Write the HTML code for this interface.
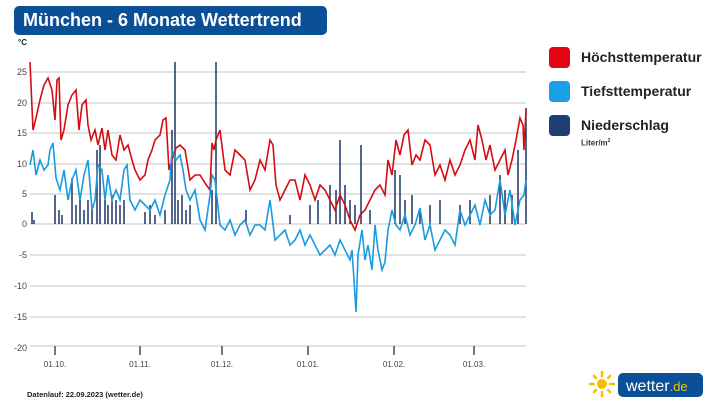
<!DOCTYPE html>
<html><head><meta charset="utf-8"><style>
body{margin:0;width:717px;height:403px;background:#fff;font-family:"Liberation Sans",sans-serif;overflow:hidden;position:relative}
.t{position:absolute;left:14px;top:6px;width:313px;height:29px;background:#0b4f97;border-radius:5px;color:#fff;font-weight:bold;font-size:18px;line-height:29px;padding-left:9px;box-sizing:border-box}
.lg{position:absolute;left:549px;width:21px;height:21px;border-radius:4px}
.lt{position:absolute;left:581px;font-size:14px;font-weight:bold;color:#222}
</style></head><body>
<div class="t">München - 6 Monate Wettertrend</div>
<div class="lg" style="top:47px;background:#e30613"></div><div class="lt" style="top:49px">Höchsttemperatur</div>
<div class="lg" style="top:81px;background:#1aa0e6"></div><div class="lt" style="top:83px">Tiefsttemperatur</div>
<div class="lg" style="top:115px;background:#1f3f73"></div><div class="lt" style="top:117px">Niederschlag</div>
<div style="position:absolute;left:581px;top:138px;font-size:8px;font-weight:bold;color:#333">Liter/m<sup style="font-size:5px">2</sup></div>
<svg width="717" height="403" style="position:absolute;left:0;top:0" font-family="Liberation Sans" font-size="9" fill="#444">
<text x="18" y="45" font-size="8" font-weight="bold" fill="#222">°C</text>
<g stroke="#c4c4c4" stroke-width="1">
<line x1="30" x2="526" y1="72" y2="72"/><line x1="30" x2="526" y1="103" y2="103"/><line x1="30" x2="526" y1="133" y2="133"/><line x1="30" x2="526" y1="164" y2="164"/><line x1="30" x2="526" y1="194" y2="194"/><line x1="30" x2="526" y1="224" y2="224"/><line x1="30" x2="526" y1="255" y2="255"/><line x1="30" x2="526" y1="286" y2="286"/><line x1="30" x2="526" y1="317" y2="317"/><line x1="30" x2="526" y1="346" y2="346"/></g>
<g text-anchor="end"><text x="27" y="75">25</text><text x="27" y="106">20</text><text x="27" y="136">15</text><text x="27" y="167">10</text><text x="27" y="197">5</text><text x="27" y="227">0</text><text x="27" y="258">-5</text><text x="27" y="289">-10</text><text x="27" y="320">-15</text><text x="27" y="351">-20</text></g>
<g stroke="#222" stroke-width="1.2"><line x1="55" x2="55" y1="346" y2="355"/><line x1="140" x2="140" y1="346" y2="355"/><line x1="222" x2="222" y1="346" y2="355"/><line x1="308" x2="308" y1="346" y2="355"/><line x1="394" x2="394" y1="346" y2="355"/><line x1="474" x2="474" y1="346" y2="355"/></g>
<g text-anchor="middle" font-size="8"><text x="55" y="367">01.10.</text><text x="140" y="367">01.11.</text><text x="222" y="367">01.12.</text><text x="308" y="367">01.01.</text><text x="394" y="367">01.02.</text><text x="474" y="367">01.03.</text></g>
<g stroke="#1f3566" stroke-width="1.5">
<path d="M32 224V212M34 224V220M55 224V195M59 224V210M62 224V215M72 224V178M76 224V205M80 224V200M84 224V210M88 224V200M92 224V205M97 224V150M100 224V145M105 224V200M108 224V205M112 224V195M116 224V200M120 224V205M124 224V200M145 224V212M150 224V205M155 224V215M165 224V210M172 224V130M175 224V62M178 224V200M182 224V195M186 224V210M190 224V205M216 224V62M212 224V190M246 224V210M290 224V215M310 224V205M318 224V200M330 224V185M336 224V190M340 224V140M345 224V185M350 224V200M355 224V205M361 224V145M370 224V210M395 224V170M400 224V175M405 224V200M412 224V195M420 224V210M430 224V205M440 224V200M460 224V205M470 224V200M490 224V195M500 224V175M505 224V190M512 224V195M518 224V150M526 224V108"/></g>
<polyline fill="none" stroke="#d40d12" stroke-width="1.6" points="30,62 33,130 36,118 40,100 44,85 48,78 52,90 55,120 57,80 59,78 61,140 64,130 68,105 72,95 76,90 79,130 82,105 86,100 88,125 91,140 95,130 98,145 102,128 105,150 108,130 112,155 116,160 120,135 124,150 128,145 132,160 135,170 140,180 145,175 148,160 152,150 155,140 160,135 163,120 166,118 169,170 172,160 176,148 180,145 185,150 190,180 195,175 200,175 205,183 210,190 212,143 214,150 216,140 220,130 225,170 230,175 235,150 240,155 245,160 250,190 255,180 260,160 265,170 270,140 273,145 276,185 280,200 285,190 290,180 295,180 300,200 305,175 310,185 315,200 320,185 325,190 330,200 335,210 340,195 345,205 350,220 355,230 360,215 365,210 370,200 375,190 380,185 385,195 388,160 392,175 396,140 400,155 404,135 408,130 412,165 416,155 420,160 425,140 430,145 435,175 440,165 445,180 450,160 455,175 460,165 465,150 470,140 475,160 478,125 482,140 486,160 490,145 495,170 500,160 505,150 508,175 512,160 516,140 520,118 523,125 524,150 526,110"/>
<polyline fill="none" stroke="#1a9be0" stroke-width="1.6" points="30,165 33,150 36,175 40,160 44,170 48,165 50,150 53,143 56,178 60,190 64,170 68,200 72,180 76,170 80,200 84,175 88,160 92,210 95,200 98,165 102,170 105,200 108,175 112,200 116,190 120,200 124,170 127,165 130,200 135,210 140,200 145,205 150,210 155,200 160,215 165,195 170,180 172,150 176,160 180,155 183,170 186,190 190,200 195,190 200,220 205,230 210,195 212,175 215,180 220,225 225,230 230,220 235,235 240,225 245,220 250,235 255,225 260,225 265,230 270,200 275,240 280,235 285,230 290,245 295,240 300,230 305,245 310,235 315,245 320,255 325,250 330,245 335,255 340,240 345,250 350,260 352,250 354,280 356,312 358,255 362,230 365,260 368,245 372,270 375,225 378,250 382,270 385,262 388,230 392,210 396,225 400,230 405,215 410,235 415,225 420,208 425,240 430,225 435,250 440,240 445,230 450,235 455,245 460,210 465,225 470,215 475,205 480,225 485,200 490,215 495,210 500,180 505,215 510,190 515,225 520,200 524,195 526,180"/>
<text x="27" y="397" font-size="7.5" font-weight="bold" fill="#222">Datenlauf: 22.09.2023 (wetter.de)</text>
<g stroke="#f2c200" stroke-width="2.5" stroke-linecap="round"><line x1="602" y1="372" x2="602" y2="376"/><line x1="602" y1="392" x2="602" y2="396"/><line x1="590" y1="384" x2="594" y2="384"/><line x1="610" y1="384" x2="614" y2="384"/><line x1="594" y1="376" x2="596" y2="378"/><line x1="608" y1="390" x2="610" y2="392"/><line x1="594" y1="392" x2="596" y2="390"/><line x1="608" y1="378" x2="610" y2="376"/></g>
<circle cx="602" cy="384" r="5" fill="#f2c200"/>
<rect x="618" y="373" width="85" height="24" rx="5" fill="#0b4f97"/>
<text x="626" y="391" font-size="16" fill="#fff">wetter<tspan fill="#f2c200" font-size="13">.de</tspan></text>
</svg>
</body></html>
